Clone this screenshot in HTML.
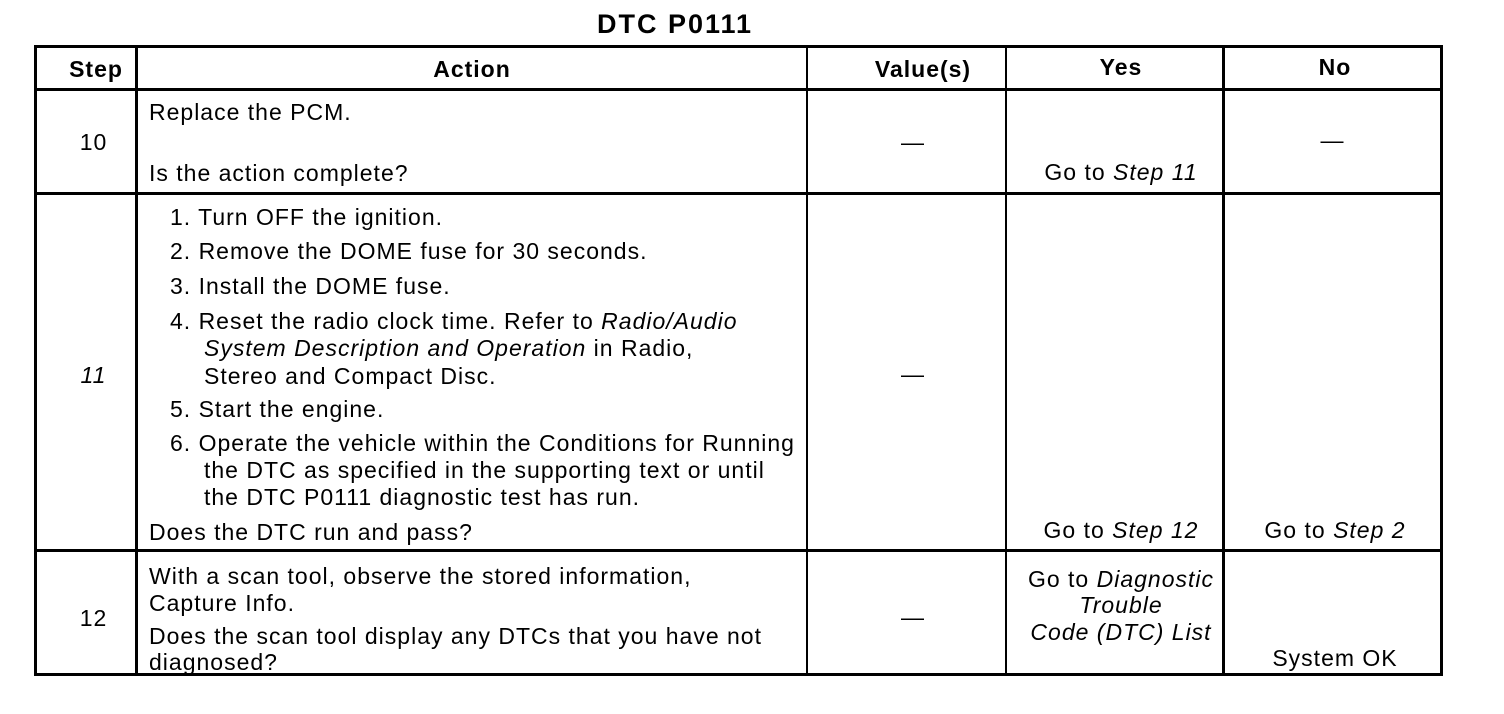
<!DOCTYPE html>
<html><head><style>
body{margin:0;width:1504px;height:714px;background:#fff;position:relative;font-family:"Liberation Sans",Arial,sans-serif;color:#000;overflow:hidden}
.l{position:absolute;background:#000}
.t{position:absolute;font-size:23px;line-height:24px;letter-spacing:1px;white-space:nowrap}
.c{text-align:center}
.b{font-weight:bold}
i{font-style:italic}
</style></head><body>
<div class="t b c" style="left:525px;top:9px;width:300px;font-size:27px;line-height:30px;letter-spacing:2px">DTC P0111</div>
<div class="l" style="left:34px;top:45px;width:1409px;height:3px"></div>
<div class="l" style="left:34px;top:88px;width:1409px;height:3px"></div>
<div class="l" style="left:34px;top:192px;width:1409px;height:3px"></div>
<div class="l" style="left:34px;top:549px;width:1409px;height:3px"></div>
<div class="l" style="left:34px;top:673px;width:1409px;height:3px"></div>
<div class="l" style="left:34px;top:45px;width:3px;height:631px"></div>
<div class="l" style="left:135px;top:45px;width:3px;height:631px"></div>
<div class="l" style="left:806px;top:45px;width:2px;height:631px"></div>
<div class="l" style="left:1005px;top:45px;width:2px;height:631px"></div>
<div class="l" style="left:1222px;top:45px;width:3px;height:631px"></div>
<div class="l" style="left:1440px;top:45px;width:3px;height:631px"></div>
<div class="t b c" style="left:37px;top:57px;width:118px">Step</div>
<div class="t b c" style="left:138px;top:57px;width:668px">Action</div>
<div class="t b c" style="left:808px;top:57px;width:230px">Value(s)</div>
<div class="t b c" style="left:1007px;top:55px;width:228px">Yes</div>
<div class="t b c" style="left:1225px;top:55px;width:220px">No</div>
<div class="t c" style="left:37px;top:130px;width:113px">10</div>
<div class="t" style="left:149px;top:100px">Replace the PCM.</div>
<div class="t" style="left:149px;top:161px">Is the action complete?</div>
<div class="t c" style="left:808px;top:130px;width:210px">—</div>
<div class="t c" style="left:1007px;top:160px;width:228px">Go to <i>Step 11</i></div>
<div class="t c" style="left:1225px;top:128px;width:215px">—</div>
<div class="t c" style="left:37px;top:363px;width:113px"><i>11</i></div>
<div class="t" style="left:170px;top:205px">1. Turn OFF the ignition.</div>
<div class="t" style="left:170px;top:239px">2. Remove the DOME fuse for 30 seconds.</div>
<div class="t" style="left:170px;top:274px">3. Install the DOME fuse.</div>
<div class="t" style="left:170px;top:309px">4. Reset the radio clock time. Refer to <i>Radio/Audio</i></div>
<div class="t" style="left:204px;top:336px"><i>System Description and Operation</i> in Radio,</div>
<div class="t" style="left:204px;top:364px">Stereo and Compact Disc.</div>
<div class="t" style="left:170px;top:397px">5. Start the engine.</div>
<div class="t" style="left:170px;top:431px">6. Operate the vehicle within the Conditions for Running</div>
<div class="t" style="left:204px;top:458px">the DTC as specified in the supporting text or until</div>
<div class="t" style="left:204px;top:485px">the DTC P0111 diagnostic test has run.</div>
<div class="t" style="left:149px;top:520px">Does the DTC run and pass?</div>
<div class="t c" style="left:808px;top:362px;width:210px">—</div>
<div class="t c" style="left:1007px;top:518px;width:228px">Go to <i>Step 12</i></div>
<div class="t c" style="left:1225px;top:518px;width:220px">Go to <i>Step 2</i></div>
<div class="t c" style="left:37px;top:606px;width:113px">12</div>
<div class="t" style="left:149px;top:564px">With a scan tool, observe the stored information,</div>
<div class="t" style="left:149px;top:591px">Capture Info.</div>
<div class="t" style="left:149px;top:624px">Does the scan tool display any DTCs that you have not</div>
<div class="t" style="left:149px;top:650px">diagnosed?</div>
<div class="t c" style="left:808px;top:605px;width:210px">—</div>
<div class="t c" style="left:1007px;top:567px;width:228px">Go to <i>Diagnostic</i></div>
<div class="t c" style="left:1007px;top:593px;width:228px"><i>Trouble</i></div>
<div class="t c" style="left:1007px;top:620px;width:228px"><i>Code (DTC) List</i></div>
<div class="t c" style="left:1225px;top:646px;width:220px">System OK</div>
</body></html>
